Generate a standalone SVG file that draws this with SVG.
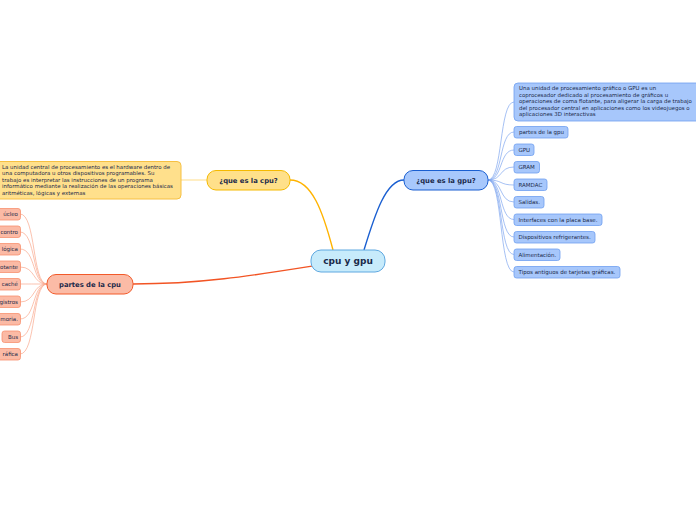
<svg xmlns="http://www.w3.org/2000/svg" width="696" height="520" viewBox="0 0 696 520">
<style>
text{font-family:"DejaVu Sans","Verdana",sans-serif;fill:#1b2a4a}
.main{font-size:9px;font-weight:bold;text-anchor:middle}
.sub{font-size:6.8px;font-weight:bold;text-anchor:middle}
.desc{font-size:5.45px}
.lbl{font-size:5.5px}
.pl{font-size:5.5px;text-anchor:end}
.yel{fill:#ffe08c;stroke:#f6c042;stroke-width:1}
.blu{fill:#a7c7fb;stroke:#6f9ff0;stroke-width:0.8}
.pnk{fill:#fbbaa5;stroke:#f7916e;stroke-width:0.8}
.cp{fill:none;stroke:#f9a88c;stroke-width:0.7}
.cg{fill:none;stroke:#7fa6ef;stroke-width:0.7}
</style>
<rect width="696" height="520" fill="#ffffff"/>
<g id="connectors">
<path d="M333,250 C323,212 312,180 290,180" fill="none" stroke="#ffb300" stroke-width="1.4"/>
<path d="M364,250 C375,214 386,180 404,180" fill="none" stroke="#1a5fd1" stroke-width="1.4"/>
<path d="M313,266 C250,276 200,284 133,284" fill="none" stroke="#f25424" stroke-width="1.4"/>
<path d="M207,180 L181,180" fill="none" stroke="#ffd46a" stroke-width="0.8"/>
<path class="cp" d="M47,284 C32,284 36,214 20,214"/>
<path class="cp" d="M47,284 C32,284 36,232 20,232"/>
<path class="cp" d="M47,284 C32,284 36,249 20,249"/>
<path class="cp" d="M47,284 C32,284 36,267 20,267"/>
<path class="cp" d="M47,284 C32,284 36,284 20,284"/>
<path class="cp" d="M47,284 C32,284 36,302 20,302"/>
<path class="cp" d="M47,284 C32,284 36,319 20,319"/>
<path class="cp" d="M47,284 C32,284 36,337 20,337"/>
<path class="cp" d="M47,284 C32,284 36,354 20,354"/>
<path class="cg" d="M488,180 C503,180 499,102 514,102"/>
<path class="cg" d="M488,180 C503,180 499,132 514,132"/>
<path class="cg" d="M488,180 C503,180 499,150 514,150"/>
<path class="cg" d="M488,180 C503,180 499,167 514,167"/>
<path class="cg" d="M488,180 C503,180 499,185 514,185"/>
<path class="cg" d="M488,180 C503,180 499,202 514,202"/>
<path class="cg" d="M488,180 C503,180 499,219.5 514,219.5"/>
<path class="cg" d="M488,180 C503,180 499,237 514,237"/>
<path class="cg" d="M488,180 C503,180 499,254.5 514,254.5"/>
<path class="cg" d="M488,180 C503,180 499,272 514,272"/>
</g>
<g id="central">
<rect x="311" y="250" width="74" height="22" rx="10" fill="#c7ebfb" stroke="#5fa8e0" stroke-width="1"/>
<text class="main" x="348" y="264.2">cpu y gpu</text>
</g>
<g id="cpu-q">
<rect x="207" y="170.5" width="83" height="19.5" rx="9" fill="#ffe08a" stroke="#f5b900" stroke-width="1"/>
<text class="sub" x="248.5" y="182.6">¿que es la cpu?</text>
</g>
<g id="gpu-q">
<rect x="404" y="170.5" width="84" height="19.5" rx="9" fill="#a8c8fc" stroke="#1a5fd1" stroke-width="1"/>
<text class="sub" x="446" y="182.6">¿que es la gpu?</text>
</g>
<g id="partes-cpu">
<rect x="47" y="274.5" width="86" height="19.5" rx="9" fill="#fbbba6" stroke="#f25a2a" stroke-width="1"/>
<text class="sub" x="90" y="286.6">partes de la cpu</text>
</g>
<g id="cpu-desc">
<rect x="-6" y="161.5" width="187" height="37.5" rx="4" class="yel"/>
<text class="desc" x="2" y="168.6">La unidad central de procesamiento es el hardware dentro de</text>
<text class="desc" x="2" y="175.2">una computadora u otros dispositivos programables. Su</text>
<text class="desc" x="2" y="181.8">trabajo es interpretar las instrucciones de un programa</text>
<text class="desc" x="2" y="188.4">informático mediante la realización de las operaciones básicas</text>
<text class="desc" x="2" y="195">aritméticas, lógicas y externas</text>
</g>
<g id="cpu-parts">
<g id="p1"><rect x="-30" y="208.5" width="50.5" height="11.5" rx="2.5" class="pnk"/><text class="pl" x="18" y="216.2">úcleo</text></g>
<g id="p2"><rect x="-30" y="226" width="50.5" height="11.5" rx="2.5" class="pnk"/><text class="pl" x="18" y="233.7">contro</text></g>
<g id="p3"><rect x="-30" y="243.5" width="50.5" height="11.5" rx="2.5" class="pnk"/><text class="pl" x="18" y="251.2">lógica</text></g>
<g id="p4"><rect x="-30" y="261" width="50.5" height="11.5" rx="2.5" class="pnk"/><text class="pl" x="18" y="268.7">otante</text></g>
<g id="p5"><rect x="-30" y="278.5" width="50.5" height="11.5" rx="2.5" class="pnk"/><text class="pl" x="18" y="286.2">caché</text></g>
<g id="p6"><rect x="-30" y="296" width="50.5" height="11.5" rx="2.5" class="pnk"/><text class="pl" x="18" y="303.7">gistros</text></g>
<g id="p7"><rect x="-30" y="313.5" width="50.5" height="11.5" rx="2.5" class="pnk"/><text class="pl" x="18" y="321.2">moria.</text></g>
<g id="p8"><rect x="2" y="331" width="18.5" height="11.5" rx="2.5" class="pnk"/><text class="pl" x="18" y="338.7">Bus</text></g>
<g id="p9"><rect x="-30" y="348.5" width="50.5" height="11.5" rx="2.5" class="pnk"/><text class="pl" x="18" y="356.2">ráfica</text></g>
</g>
<g id="gpu-desc">
<rect x="514" y="83" width="186" height="38" rx="4" class="blu"/>
<text class="desc" x="519" y="90.2">Una unidad de procesamiento gráfico o GPU es un</text>
<text class="desc" x="519" y="96.7">coprocesador dedicado al procesamiento de gráficos u</text>
<text class="desc" x="519" y="103.2">operaciones de coma flotante, para aligerar la carga de trabajo</text>
<text class="desc" x="519" y="109.7">del procesador central en aplicaciones como los videojuegos o</text>
<text class="desc" x="519" y="116.2">aplicaciones 3D interactivas</text>
</g>
<g id="gpu-parts">
<g id="g1"><rect x="514" y="126.5" width="54" height="11.5" rx="2.5" class="blu"/><text class="lbl" x="519" y="134.2">partes de la gpu</text></g>
<g id="g2"><rect x="514" y="144" width="20" height="11.5" rx="2.5" class="blu"/><text class="lbl" x="518.5" y="151.7">GPU</text></g>
<g id="g3"><rect x="514" y="161.5" width="25.5" height="11.5" rx="2.5" class="blu"/><text class="lbl" x="518.5" y="169.2">GRAM</text></g>
<g id="g4"><rect x="514" y="179" width="33" height="11.5" rx="2.5" class="blu"/><text class="lbl" x="518.5" y="186.7">RAMDAC</text></g>
<g id="g5"><rect x="514" y="196.5" width="30" height="11.5" rx="2.5" class="blu"/><text class="lbl" x="518.5" y="204.2">Salidas.</text></g>
<g id="g6"><rect x="514" y="214" width="88" height="11.5" rx="2.5" class="blu"/><text class="lbl" x="518.5" y="221.7">Interfaces con la placa base.</text></g>
<g id="g7"><rect x="514" y="231.5" width="81" height="11.5" rx="2.5" class="blu"/><text class="lbl" x="518.5" y="239.2">Dispositivos refrigerantes.</text></g>
<g id="g8"><rect x="514" y="249" width="46" height="11.5" rx="2.5" class="blu"/><text class="lbl" x="518.5" y="256.7">Alimentación.</text></g>
<g id="g9"><rect x="514" y="266.5" width="106" height="11.5" rx="2.5" class="blu"/><text class="lbl" x="518.5" y="274.2">Tipos antiguos de tarjetas gráficas.</text></g>
</g>
</svg>
